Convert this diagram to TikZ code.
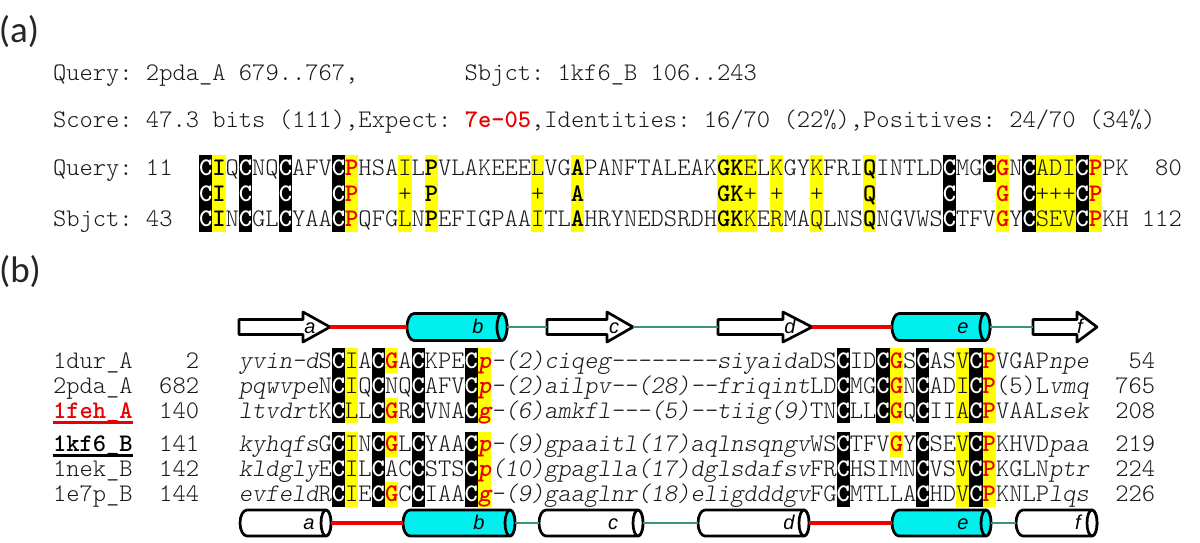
\documentclass[tikz,border=0pt]{standalone}
\usepackage{fontspec}
\setmainfont{Liberation Sans}
\newfontfamily\labf{Carlito}
\definecolor{hlyel}{RGB}{255,255,0}
\definecolor{hlred}{RGB}{235,0,0}
\definecolor{cylcyan}{RGB}{0,240,240}
\definecolor{lnred}{RGB}{240,0,0}
\definecolor{lngrn}{RGB}{60,150,110}
\definecolor{txt}{RGB}{25,25,25}
\def\xo{53}
\def\cw{13.28}
\newcommand\Cw{{\bfseries\color{white}C}}
\newcommand\Rd[1]{{\bfseries\color{hlred}#1}}
\newcommand\Bd[1]{{\bfseries\color{black}#1}}
\newcommand\Ital[1]{{\itshape #1}}
\newcommand\hla[3]{\fill[#1] ({\xo+(10+#2)*\cw},-155) rectangle ({\xo+(11+#3)*\cw},-232);}
\newcommand\hlb[5]{\fill[#1] ({\xo+(13+#2)*\cw},#4) rectangle ({\xo+(14+#3)*\cw},#5);}
\newcommand\ssarrow[7]{%
  \coordinate (#1s) at (#2,-#5);
  \coordinate (#1e) at (#4,-#5);
  \filldraw[ssout, fill=white] (#2,-#5+7.5) -- (#3,-#5+7.5) -- (#3,-#5+15) -- (#4,-#5) -- (#3,-#5-15) -- (#3,-#5-7.5) -- (#2,-#5-7.5) -- cycle;
  \node[sslab] (#1l) at (#7,-#5-6) {#6};
}
\newcommand\sscyl[8]{%
  \coordinate (#1s) at (#2,-#4);
  \coordinate (#1e) at (#3+5,-#4);
  \filldraw[ssout, fill=#6] (#3,-#4+#5) -- (#2+7,-#4+#5) arc[start angle=90, end angle=270, x radius=7, y radius=#5] -- (#3,-#4-#5) arc[start angle=-90, end angle=90, x radius=5, y radius=#5] -- cycle;
  \filldraw[ssout, fill=#6] (#3,-#4) ellipse[x radius=5, y radius=#5];
  \node[sslab] (#1l) at (#8,-#4-6) {#7};
}
\tikzset{
  seq/.style={anchor=base west, inner sep=0pt, outer sep=0pt, text=txt, font=\ttfamily\fontseries{l}\fontsize{25.3}{30}\selectfont\frenchspacing},
  numr/.style={seq, anchor=base east},
  panlab/.style={inner sep=0pt, text=black!85, font=\labf\fontsize{37}{37}\selectfont},
  sslab/.style={anchor=base, inner sep=0pt, text=black, font=\itshape\fontsize{20}{20}\selectfont},
  ssout/.style={draw=black, line width=2.7pt, line join=round},
  redln/.style={draw=lnred, line width=3.4pt},
  grnln/.style={draw=lngrn, line width=2.6pt}
}
\begin{document}
\begin{tikzpicture}[x=1pt,y=1pt]
\fill[white] (0,0) rectangle (1200,-542);
\useasboundingbox (0,0) rectangle (1200,-542);

% ---------------- (a) ----------------
\node[panlab] (pa) at (19,-32) {(a)};
\node[seq] (hq) at (\xo,-80) {Query: 2pda\_A 679..767,};
\node[seq] (hs) at ({\xo+31*\cw},-80) {Sbjct: 1kf6\_B 106..243};
\node[seq] (hsc) at (\xo,-127) {Score: 47.3 bits (111),Expect: \Rd{7e-05},Identities: 16/70 (22\%),Positives: 24/70 (34\%)};

% highlights (a)
\foreach \i in {1,4,7,11,57,63,67} {\hla{black}{\i}{\i}}
\fill[black] ({\xo+70*\cw},-155) rectangle ({\xo+71*\cw},-182);
\foreach \i/\j in {2/2,12/12,16/16,18/18,26/26,29/29,40/42,44/44,47/47,51/51,61/61,64/66,68/68} {\hla{hlyel}{\i}{\j}}

\node[seq] (ql) at (\xo,-175) {Query: 11};
\node[seq] (qs) at ({\xo+11*\cw},-175) {\Cw\Bd{I}Q\Cw NQ\Cw AFV\Cw\Rd{P}HSAIL\Bd{P}VLAKEEELVG\Bd{A}PANFTALEAK\Bd{GK}ELKGYKFRI\Bd{Q}INTLD\Cw MG\Cw\Rd{G}N\Cw ADI\Cw\Rd{P}PK};
\node[numr] (qn) at ({\xo+85*\cw},-175) {80};
\node[seq] (ms) at ({\xo+11*\cw},-201) {\Cw\Bd{I}~\Cw~~\Cw~~~\Cw\Rd{P}~~~+~\Bd{P}~~~~~~~+~~\Bd{A}~~~~~~~~~~\Bd{GK}+~+~~+~~~\Bd{Q}~~~~~\Cw~~~\Rd{G}~\Cw+++\Cw\Rd{P}};
\node[seq] (sl) at (\xo,-226) {Sbjct: 43};
\node[seq] (ss) at ({\xo+11*\cw},-226) {\Cw\Bd{I}N\Cw GL\Cw YAA\Cw\Rd{P}QFGLN\Bd{P}EFIGPAAITL\Bd{A}HRYNEDSRDH\Bd{GK}KERMAQLNS\Bd{Q}NGVWS\Cw TFV\Rd{G}Y\Cw SEV\Cw\Rd{P}KH};
\node[numr] (sn) at ({\xo+85*\cw},-226) {112};

% ---------------- (b) ----------------
\node[panlab] (pb) at (20,-272) {(b)};

% highlights (b)
\foreach \i in {8,11,14,18,46,52,56} {\hlb{black}{\i}{\i}{-348}{-423} \hlb{black}{\i}{\i}{-432}{-507}}
\hlb{black}{49}{49}{-348}{-423}
\foreach \i in {9,19,55,57} {\hlb{hlyel}{\i}{\i}{-348}{-423} \hlb{hlyel}{\i}{\i}{-432}{-507}}
\hlb{hlyel}{12}{12}{-348}{-373}
\hlb{hlyel}{12}{12}{-398}{-423}
\hlb{hlyel}{12}{12}{-432}{-457}
\hlb{hlyel}{12}{12}{-482}{-507}
\hlb{hlyel}{50}{50}{-348}{-423}
\hlb{hlyel}{50}{50}{-432}{-457}

% rows
\node[seq] (n1) at (\xo,-368) {1dur\_A};
\node[numr] (s1) at ({\xo+11*\cw},-368) {2};
\node[seq] (q1) at ({\xo+14*\cw},-368) {\Ital{yvin-d}S\Cw IA\Cw\Rd{G}A\Cw KPE\Cw\Rd{\Ital{p}}\Ital{-(2)ciqeg--------siyaida}DS\Cw ID\Cw\Rd{G}S\Cw ASV\Cw\Rd{P}VGAP\Ital{npe}};
\node[numr] (e1) at ({\xo+83*\cw},-368) {54};

\node[seq] (n2) at (\xo,-393) {2pda\_A};
\node[numr] (s2) at ({\xo+11*\cw},-393) {682};
\node[seq] (q2) at ({\xo+14*\cw},-393) {\Ital{pqwvpe}N\Cw IQ\Cw NQ\Cw AFV\Cw\Rd{\Ital{p}}\Ital{-(2)ailpv--(28)--friqint}LD\Cw MG\Cw\Rd{G}N\Cw ADI\Cw\Rd{P}(5)L\Ital{vmq}};
\node[numr] (e2) at ({\xo+83*\cw},-393) {765};

\node[seq, text=hlred, font=\ttfamily\bfseries\fontsize{25.3}{30}\selectfont] (n3) at (\xo,-418) {1feh\_A};
\draw[hlred, line width=2.5pt] (\xo,-422.5) -- ({\xo+6*\cw},-422.5);
\node[numr] (s3) at ({\xo+11*\cw},-418) {140};
\node[seq] (q3) at ({\xo+14*\cw},-418) {\Ital{ltvdrt}K\Cw LL\Cw\Rd{G}R\Cw VNA\Cw\Rd{\Ital{g}}\Ital{-(6)amkfl---(5)--tiig(9)}TN\Cw LL\Cw\Rd{G}Q\Cw IIA\Cw\Rd{P}VAAL\Ital{sek}};
\node[numr] (e3) at ({\xo+83*\cw},-418) {208};

\node[seq, text=black, font=\ttfamily\bfseries\fontsize{25.3}{30}\selectfont] (n4) at (\xo,-451) {1kf6\_B};
\draw[black, line width=2.5pt] (\xo,-455.5) -- ({\xo+6*\cw},-455.5);
\node[numr] (s4) at ({\xo+11*\cw},-451) {141};
\node[seq] (q4) at ({\xo+14*\cw},-451) {\Ital{kyhqfs}G\Cw IN\Cw\Rd{G}L\Cw YAA\Cw\Rd{\Ital{p}}\Ital{-(9)gpaaitl(17)aqlnsqngv}WS\Cw TFV\Rd{G}Y\Cw SEV\Cw\Rd{P}KHVD\Ital{paa}};
\node[numr] (e4) at ({\xo+83*\cw},-451) {219};

\node[seq] (n5) at (\xo,-476) {1nek\_B};
\node[numr] (s5) at ({\xo+11*\cw},-476) {142};
\node[seq] (q5) at ({\xo+14*\cw},-476) {\Ital{kldgly}E\Cw IL\Cw AC\Cw STS\Cw\Rd{\Ital{p}}\Ital{(10)gpaglla(17)dglsdafsv}FR\Cw HSIMN\Cw VSV\Cw\Rd{P}KGLN\Ital{ptr}};
\node[numr] (e5) at ({\xo+83*\cw},-476) {224};

\node[seq] (n6) at (\xo,-501) {1e7p\_B};
\node[numr] (s6) at ({\xo+11*\cw},-501) {144};
\node[seq] (q6) at ({\xo+14*\cw},-501) {\Ital{evfeld}R\Cw IE\Cw\Rd{G}C\Cw IAA\Cw\Rd{\Ital{g}}\Ital{-(9)gaaglnr(18)eligdddgv}FG\Cw MTLLA\Cw HDV\Cw\Rd{P}KNLP\Ital{lqs}};
\node[numr] (e6) at ({\xo+83*\cw},-501) {226};

% secondary structure, top
\ssarrow{ta}{239}{303}{330}{327}{a}{310}
\sscyl{tb}{407}{502}{327}{13.5}{cylcyan}{b}{478}
\ssarrow{tc}{547}{607}{633}{327}{c}{614}
\ssarrow{td}{718}{783}{812}{327}{d}{790}
\sscyl{te}{892}{985}{327}{13.5}{cylcyan}{e}{963}
\ssarrow{tf}{1033}{1077}{1097}{327}{f}{1080}
\draw[redln] (tae) -- (tbs);
\draw[grnln] (tbe) -- (tcs);
\draw[grnln] (tce) -- (tds);
\draw[redln] (tde) -- (tes);
\draw[grnln] (tee) -- (tfs);

% secondary structure, bottom
\sscyl{ba}{240}{326}{523}{13}{white}{a}{309}
\sscyl{bb}{403}{510}{523}{13}{cylcyan}{b}{479}
\sscyl{bc}{539}{638}{523}{13}{white}{c}{613}
\sscyl{bd}{698}{804}{523}{13}{white}{d}{789}
\sscyl{be}{892}{986}{523}{13}{cylcyan}{e}{963}
\sscyl{bf}{1016}{1092}{523}{13}{white}{f}{1078}
\draw[redln] (bae) -- (bbs);
\draw[grnln] (bbe) -- (bcs);
\draw[grnln] (bce) -- (bds);
\draw[redln] (bde) -- (bes);
\draw[grnln] (bee) -- (bfs);
\end{tikzpicture}
\end{document}
